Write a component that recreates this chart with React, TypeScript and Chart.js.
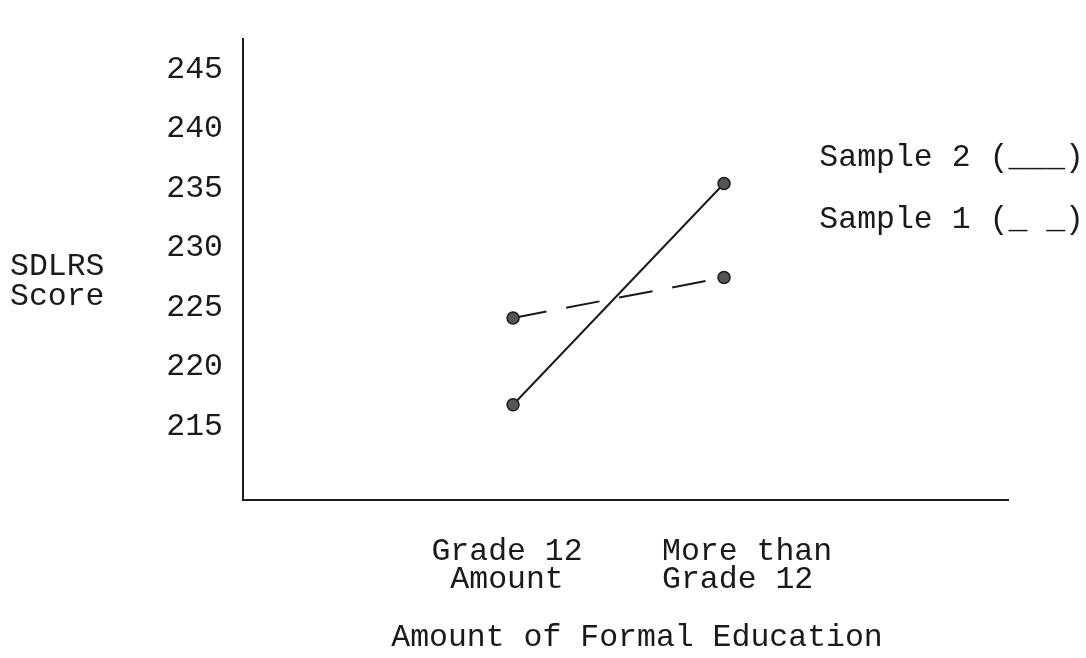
import React, { useEffect, useRef } from "react";
import { Chart, registerables } from "chart.js";

Chart.register(...registerables);

// ---- data ----
const categories: string[][] = [
  ["Grade 12", "Amount"],
  ["More than", "Grade 12"],
];
const sample1: number[] = [224.1, 227.5];
const sample2: number[] = [216.8, 235.4];
const yTicks: number[] = [215, 220, 225, 230, 235, 240, 245];
const yTitle: string[] = ["SDLRS", "Score"];
const xTitle = "Amount of Formal Education";

const FONT = "'Liberation Mono', 'Courier New', monospace";
const INK = "#1a1a1a";

const textPlugin = {
  id: "typedText",
  afterDraw(chart: any) {
    const { ctx, scales } = chart;
    const xs = scales.x;
    ctx.save();
    ctx.fillStyle = INK;
    ctx.font = `31.5px ${FONT}`;
    ctx.textBaseline = "middle";

    // category labels
    categories.forEach((lines, i) => {
      const px = xs.getPixelForValue(i);
      const align = i === 0 ? "center" : "left";
      const x = i === 0 ? px - 6 : px - 62;
      ctx.textAlign = align;
      lines.forEach((ln, j) => ctx.fillText(ln, x, 552 + j * 28));
    });

    // x title
    ctx.textAlign = "center";
    ctx.fillText(xTitle, 637, 638);

    // y title
    ctx.textAlign = "left";
    yTitle.forEach((ln, j) => ctx.fillText(ln, 10, 267 + j * 30));

    // legend
    ctx.textAlign = "right";
    const ds = chart.data.datasets;
    const order = [1, 0];
    order.forEach((k, j) => {
      const d = ds[k];
      const marker = d.borderDash && d.borderDash.length ? "_ _" : "___";
      ctx.fillText(`${d.label} (${marker})`, 1084, 158 + j * 62);
    });
    ctx.restore();
  },
};

export default function App() {
  const ref = useRef<HTMLCanvasElement | null>(null);

  useEffect(() => {
    if (!ref.current) return;
    const chart = new Chart(ref.current, {
      type: "line",
      data: {
        datasets: [
          {
            label: "Sample 1",
            data: sample1.map((y, i) => ({ x: i, y })),
            borderColor: INK,
            borderWidth: 2,
            borderDash: [34, 20],
            pointRadius: 6,
            pointBackgroundColor: "#555",
            pointBorderColor: INK,
            pointBorderWidth: 1.5,
            fill: false,
            tension: 0,
          },
          {
            label: "Sample 2",
            data: sample2.map((y, i) => ({ x: i, y })),
            borderColor: INK,
            borderWidth: 2,
            pointRadius: 6,
            pointBackgroundColor: "#555",
            pointBorderColor: INK,
            pointBorderWidth: 1.5,
            fill: false,
            tension: 0,
          },
        ],
      },
      options: {
        responsive: false,
        animation: false,
        layout: { padding: { top: 13, right: 78, left: 0, bottom: 0 } },
        plugins: {
          legend: { display: false },
          tooltip: { enabled: false },
          title: { display: false },
        },
        scales: {
          x: {
            type: "linear",
            min: -1.28,
            max: 2.346,
            grid: { display: false, drawTicks: false },
            border: { display: true, color: INK, width: 2 },
            ticks: { display: false },
            afterFit: (s: any) => {
              s.height = 158;
            },
          },
          y: {
            type: "linear",
            min: 208.8,
            max: 247.55,
            grid: { display: false, drawTicks: false },
            border: { display: true, color: INK, width: 2 },
            afterBuildTicks: (s: any) => {
              s.ticks = yTicks.map((v) => ({ value: v }));
            },
            ticks: {
              padding: 20,
              color: INK,
              font: { family: FONT, size: 31.5 },
              callback: (v: any) => String(v),
            },
            afterFit: (s: any) => {
              s.width = 243;
            },
          },
        },
      },
      plugins: [textPlugin],
    });
    return () => chart.destroy();
  }, []);

  return (
    <div style={{ position: "absolute", left: 0, top: 0, width: 1086, height: 658, background: "#fff" }}>
      <canvas ref={ref} width={1086} height={658} />
    </div>
  );
}
